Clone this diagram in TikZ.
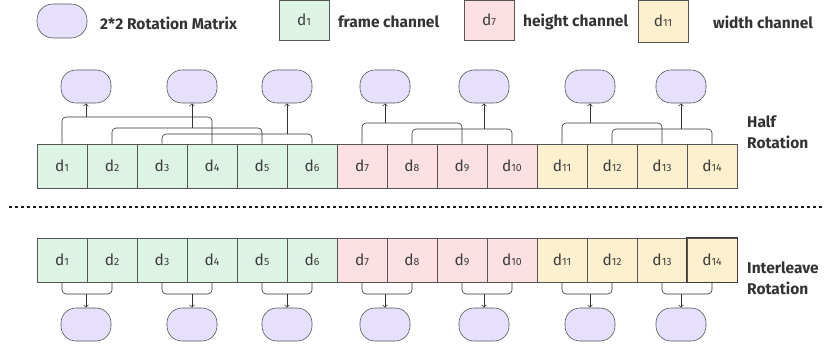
\documentclass[tikz,border=0pt]{standalone}
\usepackage{fontspec}
\setmainfont{Fira Sans}
\usetikzlibrary{arrows.meta}
\definecolor{cg}{HTML}{DDF3E4}
\definecolor{cp}{HTML}{FDE1E2}
\definecolor{cy}{HTML}{FDF0CE}
\definecolor{cl}{HTML}{E6E0FD}
\definecolor{cb}{HTML}{555555}
\definecolor{ct}{HTML}{333333}
\definecolor{cd}{HTML}{3C3C3C}
\newcommand\dsub[1]{{\fontsize{10.5}{10.5}\selectfont #1}}
\newcommand\topbracket[4]{%
  \coordinate (lv#3) at (0,#4);
  \draw[brk] (#1.north) -- (#1.north |- lv#3) -- (#2.north |- lv#3) -- (#2.north);
  \draw[arr] (#3.south |- lv#3) -- (#3.south);
}
\newcommand\botbracket[3]{%
  \coordinate (lw#3) at (0,294);
  \draw[brk] (#1.south) -- (#1.south |- lw#3) -- (#2.south |- lw#3) -- (#2.south);
  \draw[arr] (#3.north |- lw#3) -- (#3.north);
}
\begin{document}
\begin{tikzpicture}[x=1pt,y=-1pt,
  cell/.style={draw=cb, line width=0.6pt, minimum width=50pt, minimum height=44pt, inner sep=0pt,
    font=\fontsize{15.5}{15.5}\selectfont, text=cd},
  rot/.style={draw=cb, fill=cl, line width=0.6pt, minimum width=50pt, minimum height=33pt,
    rounded corners=15pt, inner sep=0pt},
  brk/.style={draw=ct, line width=0.6pt, rounded corners=4pt},
  arr/.style={draw=ct, line width=0.6pt, -{Straight Barb[length=2.5pt,width=5pt]}},
  lbl/.style={font=\fontsize{15.5}{21.5}\selectfont\bfseries, text=ct, inner sep=0pt, align=left},
  dotline/.style={line width=2.5pt, dash pattern=on 3pt off 3pt, draw=black!90}
]
\useasboundingbox (0,0) rectangle (824,347);

% legend
\node[rot, minimum height=34pt, rounded corners=16pt] (lg) at (62,21) {};
\node[lbl, anchor=west] (lgt) at (100,23) {2*2 Rotation Matrix};
\node[cell, fill=cg, minimum height=40pt] (lf) at (304,20) {d\dsub{1}};
\node[lbl, anchor=west] (lft) at (338,22) {frame channel};
\node[cell, fill=cp, minimum height=40pt] (lh) at (489,20) {d\dsub{7}};
\node[lbl, anchor=west] (lht) at (523,22) {height channel};
\node[cell, fill=cy, minimum height=42pt] (lw) at (663,21) {d\dsub{11}};
\node[lbl, anchor=west] (lwt) at (713,22) {width channel};

% cells
\foreach \i/\c in {1/cg,2/cg,3/cg,4/cg,5/cg,6/cg,7/cp,8/cp,9/cp,10/cp,11/cy,12/cy,13/cy,14/cy}{
  \node[cell, fill=\c] (t\i) at (12+50*\i,166) {d\dsub{\i}};
  \node[cell, fill=\c] (b\i) at (12+50*\i,260) {d\dsub{\i}};
}
\draw[cb!70!black, line width=1.1pt] (b14.south west) rectangle (b14.north east);

% rotation matrices
\foreach \j/\x in {1/86,2/192,3/287,4/385,5/484,6/590,7/681}{
  \node[rot] (e\j) at (\x,86.5) {};
  \node[rot] (f\j) at (\x,324.5) {};
}

% half rotation brackets
\topbracket{t1}{t4}{e1}{117}
\topbracket{t2}{t5}{e2}{128}
\topbracket{t3}{t6}{e3}{134}
\topbracket{t7}{t9}{e4}{123}
\topbracket{t8}{t10}{e5}{129}
\topbracket{t11}{t13}{e6}{123}
\topbracket{t12}{t14}{e7}{129}

% interleave brackets
\botbracket{b1}{b2}{f1}
\botbracket{b3}{b4}{f2}
\botbracket{b5}{b6}{f3}
\botbracket{b7}{b8}{f4}
\botbracket{b9}{b10}{f5}
\botbracket{b11}{b12}{f6}
\botbracket{b13}{b14}{f7}

% separator
\coordinate (s1) at (9,207);
\coordinate (s2) at (822,207);
\draw[dotline] (s1) -- (s2);

% side labels
\node[lbl, anchor=west] (hr) at (747,132.5) {Half\\Rotation};
\node[lbl, anchor=west] (ir) at (747,278) {Interleave\\Rotation};
\end{tikzpicture}
\end{document}
